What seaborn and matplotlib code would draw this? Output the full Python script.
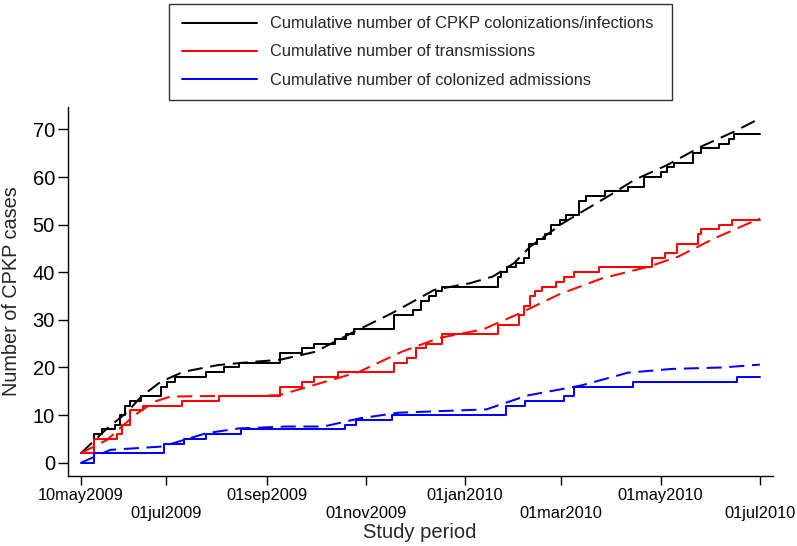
import numpy as np
import pandas as pd
import matplotlib
matplotlib.use("Agg")
import matplotlib.pyplot as plt
import seaborn as sns

# ---------------- data (days since 10may2009, cumulative counts) ----------------
start_date = "2009-05-10"

total_days = [0, 8, 13, 21, 24, 27, 30, 37, 49, 53, 58, 77, 88, 97, 122, 136, 143, 156,
              163, 168, 192, 204, 209, 214, 218, 222, 256, 258, 262, 267, 272, 275, 280,
              285, 289, 294, 298, 306, 310, 322, 336, 346, 356, 360, 364, 376, 381, 392,
              398, 401, 403, 417]
total_vals = [2, 6, 7, 8, 10, 12, 13, 14, 16, 17, 18, 19, 20, 21, 23, 24, 25, 26,
              27, 28, 31, 32, 34, 35, 36, 37, 39, 40, 41, 42, 43, 46, 47,
              48, 50, 51, 52, 55, 56, 57, 58, 60, 61, 62, 63, 65, 66, 67,
              68, 69, 69, 69]

trans_days = [0, 8, 22, 25, 30, 38, 62, 85, 122, 136, 143, 158, 192, 200, 206, 212, 222,
              256, 269, 272, 276, 279, 283, 292, 297, 303, 318, 351, 359, 366, 379, 381,
              392, 400, 417]
trans_vals = [2, 5, 6, 8, 11, 12, 13, 14, 16, 17, 18, 19, 21, 22, 24, 25, 27,
              29, 31, 33, 35, 36, 37, 38, 39, 40, 41, 43, 44, 46, 48, 49,
              50, 51, 51]

adm_days = [0, 8, 51, 63, 77, 98, 162, 169, 191, 261, 273, 297, 303, 339, 403, 417]
adm_vals = [0, 2, 4, 5, 6, 7, 8, 9, 10, 12, 13, 14, 16, 17, 18, 18]

# smooth (expected) curves, dashed
total_fit_days = [0, 16, 28, 37, 49, 63, 84, 106, 122, 144, 166, 191, 217, 239, 253, 266,
                  276, 296, 325, 340, 360, 381, 401, 417]
total_fit_vals = [2, 7.2, 10.5, 13.9, 17, 19.1, 20.5, 21.2, 21.6, 23.3, 27.2, 31.4, 36.3,
                  37.7, 39.1, 41.9, 45.4, 50.3, 56.2, 59.4, 62.5, 66.4, 69.5, 72.3]

trans_fit_days = [0, 16, 33, 45, 55, 80, 106, 122, 140, 171, 197, 220, 247, 269, 294, 320,
                  349, 367, 389, 417]
trans_fit_vals = [2, 4.8, 10, 12.8, 13.9, 14, 14, 14.2, 16, 19.1, 23.3, 26.2, 28, 31.3,
                  35.4, 38.7, 41.2, 43.3, 47.1, 51.3]

adm_fit_days = [0, 18, 50, 77, 97, 126, 149, 171, 195, 249, 274, 307, 336, 363, 394, 417]
adm_fit_vals = [0, 2.7, 3.4, 6.2, 7.2, 7.6, 7.6, 9.3, 10.5, 11.2, 14.1, 16.2, 18.9, 19.7,
                20.0, 20.6]

tick_dates = ["2009-05-10", "2009-07-01", "2009-09-01", "2009-11-01",
              "2010-01-01", "2010-03-01", "2010-05-01", "2010-07-01"]
tick_labels = ["10may2009", "01jul2009", "01sep2009", "01nov2009",
               "01jan2010", "01mar2010", "01may2010", "01jul2010"]

labels = ["Cumulative number of CPKP colonizations/infections",
          "Cumulative number of transmissions",
          "Cumulative number of colonized admissions"]
colors = ["#000000", "#ff0000", "#0000ff"]

# ---------------- plotting ----------------
sns.set_theme(style="white")
plt.rcParams["font.family"] = ["Liberation Sans", "DejaVu Sans"]

t0 = pd.Timestamp(start_date)


def to_dates(days):
    return t0 + pd.to_timedelta(np.asarray(days), unit="D")


fig = plt.figure(figsize=(7.97, 5.46), dpi=100)
ax = fig.add_axes([0.0853, 0.129, 0.8852, 0.675])

solid = [(total_days, total_vals), (trans_days, trans_vals), (adm_days, adm_vals)]
dashed = [(total_fit_days, total_fit_vals), (trans_fit_days, trans_fit_vals),
          (adm_fit_days, adm_fit_vals)]

for (d, v), lab, c in zip(solid, labels, colors):
    sns.lineplot(x=to_dates(d), y=v, ax=ax, color=c, lw=1.45, drawstyle="steps-post",
                 estimator=None, sort=False, label=lab)
for (d, v), c in zip(dashed, colors):
    sns.lineplot(x=to_dates(d), y=v, ax=ax, color=c, lw=1.45, estimator=None, sort=False,
                 dashes=False, linestyle=(0, (7.5, 3.8)))

h, l = ax.get_legend_handles_labels()
if ax.get_legend() is not None:
    ax.get_legend().remove()

ax.set_xlim(t0 - pd.Timedelta(days=8), t0 + pd.Timedelta(days=425.4))
ax.set_ylim(-2.7, 74.7)
ax.set_yticks(range(0, 71, 10))
ax.set_xticks(pd.to_datetime(tick_dates))
ax.set_xticklabels([lab if i % 2 == 0 else "\n" + lab for i, lab in enumerate(tick_labels)],
                   fontsize=11.8)
ax.tick_params(axis="y", labelsize=14.5, length=7.2, width=1, pad=2.2, left=True,
               direction="out", colors="black")
ax.tick_params(axis="x", length=6.3, width=1, pad=3, bottom=True, direction="out",
               colors="black")
for s in ["top", "right"]:
    ax.spines[s].set_visible(False)
for s in ["left", "bottom"]:
    ax.spines[s].set_color("black")
    ax.spines[s].set_linewidth(1.0)

ax.set_xlabel("Study period", fontsize=14.5)
ax.set_ylabel("Number of CPKP cases", fontsize=14.3)
ax.xaxis.set_label_coords(0.499, -0.128)
ax.yaxis.set_label_coords(-0.066, 0.5)

leg = fig.legend(h[:3], l[:3], loc="upper left",
                 bbox_to_anchor=(169 / 797, 1 - 3.5 / 546, 503 / 797, 0.0),
                 mode="expand", fontsize=11.8, frameon=True, fancybox=False,
                 edgecolor="black", handlelength=4.6, handletextpad=0.8,
                 borderpad=0.78, labelspacing=0.8, borderaxespad=0)
leg.get_frame().set_linewidth(1.0)

fig.savefig("out.png", dpi=100)
